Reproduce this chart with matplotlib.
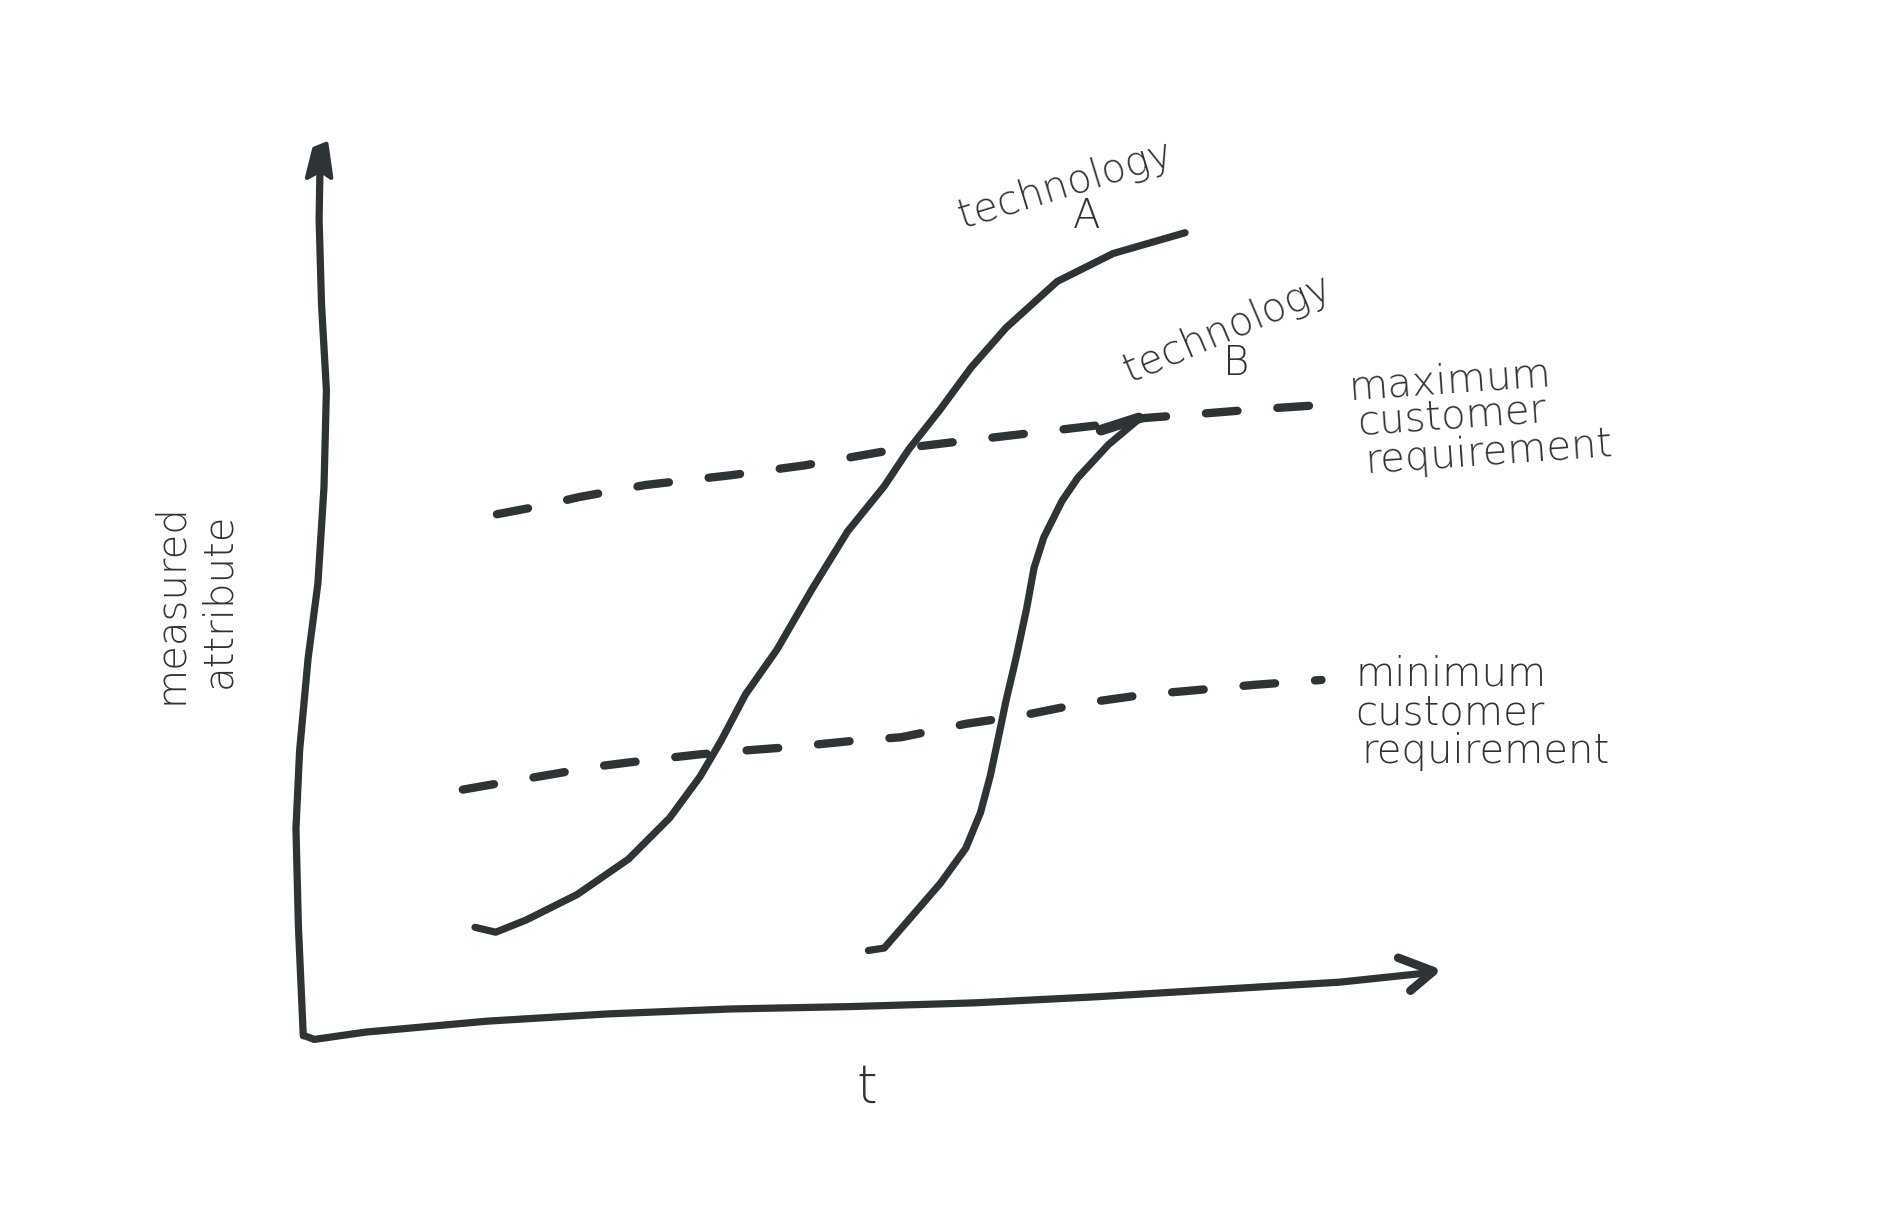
import matplotlib
matplotlib.use("Agg")
import matplotlib.pyplot as plt

# Hand-drawn sketch traced in page units (0..1560 wide, 0..1002 tall, y downward)
y_axis_x = [249, 245, 243, 246, 253, 261, 266, 268, 264, 262, 263]
y_axis_y = [850, 760, 680, 616, 540, 479, 400, 320, 250, 180, 122]
x_axis_x = [250, 258, 300, 400, 500, 600, 700, 800, 900, 1000, 1100, 1176]
x_axis_y = [850, 853, 847, 838, 832, 828, 826, 823, 818, 812, 806, 798]

tech_a_x = [390, 407, 432, 474, 516, 550, 575, 592, 612, 638, 667, 696, 726, 746,
            772, 797, 826, 868, 914, 973]
tech_a_y = [761, 765, 755, 734, 705, 671, 637, 608, 570, 533, 483, 436, 399, 369,
            336, 302, 269, 231, 208, 191]
tech_b_x = [713, 726, 746, 772, 793, 805, 813, 820, 826, 834, 843, 849, 857, 872,
            885, 910, 935]
tech_b_y = [780, 778, 755, 725, 696, 667, 637, 604, 575, 541, 499, 466, 441, 411,
            392, 365, 344]

max_req_x = [408, 445, 475, 530, 600, 660, 700, 740, 790, 850, 910, 940, 980, 1030, 1090]
max_req_y = [422, 415, 408, 398, 390, 382, 375, 368, 362, 355, 348, 343, 340, 336, 332]
min_req_x = [380, 420, 450, 490, 530, 575, 610, 650, 700, 740, 793, 840, 890, 940,
             975, 1030, 1085]
min_req_y = [648, 641, 636, 629, 624, 619, 616, 613, 608, 605, 594, 587, 577, 570,
             567, 562, 558]

ink = "#2e3335"
fig = plt.figure(figsize=(19, 12.21), dpi=100)
ax = fig.add_axes([0, 0, 1, 1])
ax.set_xlim(0, 1560)
ax.set_ylim(1002, 0)
ax.axis("off")

lw = 5.2
line_kw = dict(color=ink, lw=lw, solid_capstyle="round", solid_joinstyle="round")
ax.plot(y_axis_x, y_axis_y, **line_kw)
ax.plot(x_axis_x, x_axis_y, **line_kw)
# arrowheads
ax.fill([252, 258, 268, 272, 263], [146, 122, 118, 146, 140], color=ink, lw=3,
        edgecolor=ink, joinstyle="round")
ax.plot([1148, 1177, 1158], [786, 797, 813], color=ink, lw=lw + 1,
        solid_capstyle="round", solid_joinstyle="round")

ax.plot(tech_a_x, tech_a_y, **line_kw)
ax.plot(tech_b_x, tech_b_y, **line_kw)
ax.plot([904, 935], [353, 343], color=ink, lw=lw + 2.5, solid_capstyle="round")

dash_kw = dict(color=ink, lw=lw + 0.8, linestyle=(0, (3.8, 4.8)), dash_capstyle="round")
ax.plot(max_req_x, max_req_y, **dash_kw)
ax.plot(min_req_x, min_req_y, **dash_kw)

fam = ["DejaVu Sans"]
fkw = dict(color=ink, family=fam, fontweight="light", fontsize=29)
ax.text(875, 152, "technology", rotation=17, ha="center", va="center", **fkw)
ax.text(892, 178, "A", ha="center", va="center", **fkw)
ax.text(1008, 270, "technology", rotation=23, ha="center", va="center", **fkw)
ax.text(1015, 298, "B", ha="center", va="center", **fkw)

ax.text(1106, 313, "maximum", rotation=4, ha="left", va="center", **fkw)
ax.text(1113, 342, "customer", rotation=4, ha="left", va="center", **fkw)
ax.text(1120, 372, "requirement", rotation=4, ha="left", va="center", **fkw)

ax.text(1113, 553, "minimum", ha="left", va="center", **fkw)
ax.text(1113, 585, "customer", ha="left", va="center", **fkw)
ax.text(1118, 617, "requirement", ha="left", va="center", **fkw)

ax.text(140, 495, "measured", rotation=90, ha="center", va="center", **fkw)
ax.text(180, 493, "attribute", rotation=90, ha="center", va="center", **fkw)

ax.text(712, 893, "t", ha="center", va="center", color=ink, family=fam,
        fontweight="light", fontsize=38)

fig.savefig("out.png", dpi=100, facecolor="white")
